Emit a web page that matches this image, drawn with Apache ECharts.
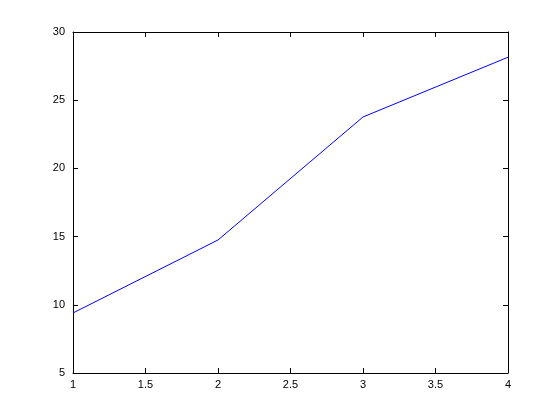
<!DOCTYPE html>
<html>
<head>
<meta charset="utf-8">
<script src="https://cdn.jsdelivr.net/npm/echarts@6/dist/echarts.min.js"></script>
<style>html,body{margin:0;padding:0;background:#fff}#chart{width:560px;height:420px}</style>
</head>
<body>
<div id="chart"></div>
<script>
// values
var xValues = [1, 2, 3, 4];
var yValues = [9.4, 14.75, 23.77, 28.15];

var points = xValues.map(function (x, i) { return [x, yValues[i]]; });

var lineStyle = { color: '#000', width: 1 };
var labelStyle = { color: '#000', fontFamily: 'Liberation Sans', fontSize: 11 };

function xAxis(pos, show) {
  return {
    type: 'value', position: pos, min: 1, max: 4, interval: 0.5,
    axisLine: { show: true, onZero: false, lineStyle: lineStyle },
    axisTick: { inside: true, length: 5, lineStyle: lineStyle },
    axisLabel: show ? Object.assign({ margin: 6 }, labelStyle) : { show: false },
    splitLine: { show: false }
  };
}
function yAxis(pos, show) {
  return {
    type: 'value', position: pos, min: 5, max: 30, interval: 5,
    axisLine: { show: true, onZero: false, lineStyle: lineStyle },
    axisTick: { inside: true, length: 5, lineStyle: lineStyle },
    axisLabel: show ? Object.assign({ margin: 8 }, labelStyle) : { show: false },
    splitLine: { show: false }
  };
}

var myChart = echarts.init(document.getElementById('chart'));
myChart.setOption({
  animation: false,
  grid: { left: 73, right: 52, top: 32, bottom: 47 },
  xAxis: [xAxis('bottom', true), xAxis('top', false)],
  yAxis: [yAxis('left', true), yAxis('right', false)],
  series: [{
    type: 'line',
    data: points,
    symbol: 'none',
    lineStyle: { color: '#0000ff', width: 1 }
  }]
});
</script>
</body>
</html>
